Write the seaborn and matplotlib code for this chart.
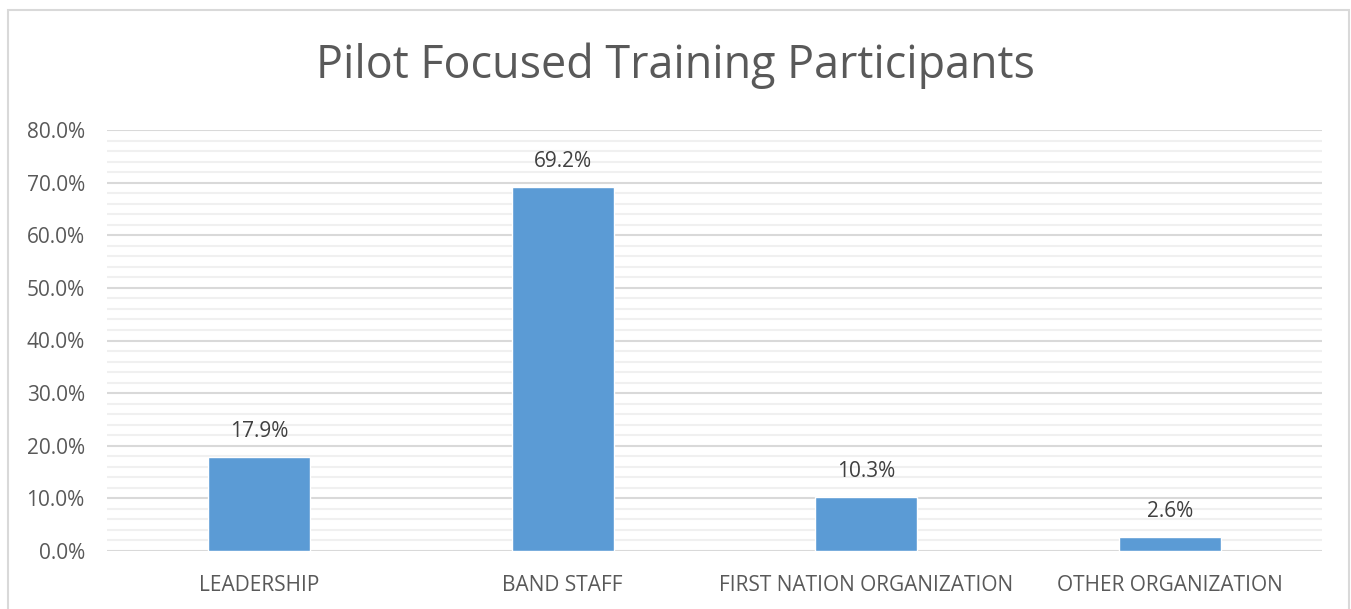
import matplotlib
matplotlib.use("Agg")
import matplotlib.pyplot as plt
import seaborn as sns
import pandas as pd
import numpy as np
from matplotlib.ticker import MultipleLocator, FuncFormatter
from matplotlib.patches import Rectangle

categories = ["LEADERSHIP", "BAND STAFF", "FIRST NATION ORGANIZATION", "OTHER ORGANIZATION"]
values = [17.9, 69.2, 10.3, 2.6]
title = "Pilot Focused Training Participants"

sns.set_theme(style="white")
plt.rcParams['font.family'] = ['Open Sans', 'DejaVu Sans']

W, H = 1351, 609
fig = plt.figure(figsize=(W/100, H/100), dpi=100)
ax = fig.add_axes([107/W, 1-551/H, (1322-107)/W, (551-130)/H])

df = pd.DataFrame({"cat": categories, "val": values})
sns.barplot(data=df, x="cat", y="val", color="#5B9BD5", saturation=1, width=0.335, ax=ax, zorder=3)

ax.set_ylim(0, 80)
ax.yaxis.set_major_locator(MultipleLocator(10))
ax.yaxis.set_minor_locator(MultipleLocator(2))
ax.yaxis.set_major_formatter(FuncFormatter(lambda v, p: f"{v:.1f}%"))
ax.grid(which="major", axis="y", color="#D9D9D9", linewidth=1.5, zorder=0)
ax.grid(which="minor", axis="y", color="#F0F0F0", linewidth=1.5, zorder=0)
ax.set_axisbelow(True)
for s in ax.spines.values():
    s.set_visible(False)
ax.tick_params(axis="both", which="both", length=0, labelsize=15, colors="#595959")
ax.tick_params(axis="y", pad=16)
ax.tick_params(axis="x", pad=17)
ax.set_xlabel("")
ax.set_ylabel("")
ax.set_xlim(-0.5, 3.5)

for i, v in enumerate(values):
    ax.annotate(f"{v:.1f}%", (i, v), xytext=(0, 11), textcoords="offset points",
                ha="center", va="bottom", fontsize=15, color="#404040")

fig.text(0.5, 1-66/H, title, ha="center", va="center", fontsize=32.3, color="#595959")

fig.patches.append(Rectangle((8/W, -0.01), (1349-8)/W, 1-10/H+0.01, transform=fig.transFigure,
                             fill=False, edgecolor="#D9D9D9", linewidth=1.5))

fig.savefig("out.png", dpi=100)
